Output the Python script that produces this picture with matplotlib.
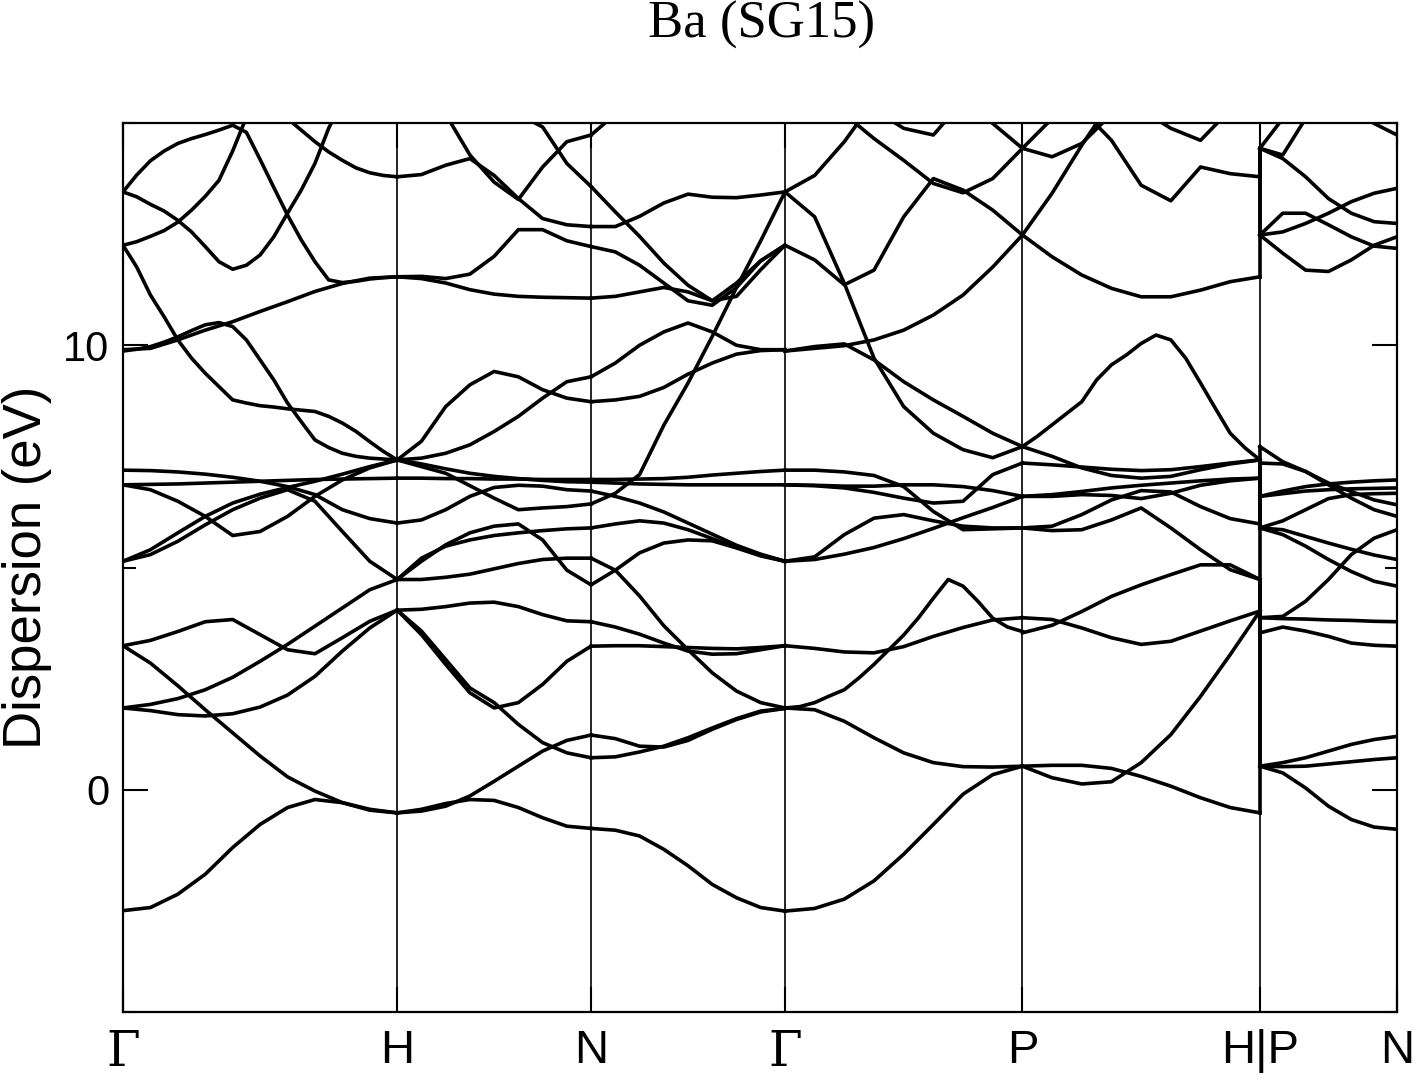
import matplotlib
matplotlib.use('Agg')
import matplotlib.pyplot as plt
import numpy as np

nan = np.nan

# k-path (units of 2pi/a), bcc: G-H-N-G-P-H|P-N
kpoints = [0.0, 1.0, 1.7071, 2.4142, 3.2802, 4.1463, 4.6463]
klabels = ['Γ', 'H', 'N', 'Γ', 'P', 'H|P', 'N']

# energies (eV) read along each segment, evenly spaced samples
gh_bands = [
    [-2.72, -2.65, -2.35, -1.90, -1.30, -0.78, -0.40, -0.22, -0.29, -0.44, -0.52],
    [3.24, 2.85, 2.34, 1.80, 1.28, 0.76, 0.29, -0.03, -0.29, -0.46, -0.52],
    [3.24, 3.36, 3.56, 3.78, 3.83, 3.49, 3.15, 3.06, 3.42, 3.79, 4.04],
    [1.84, 1.78, 1.69, 1.66, 1.71, 1.86, 2.13, 2.55, 3.12, 3.64, 4.04],
    [1.84, 1.92, 2.05, 2.25, 2.53, 2.89, 3.27, 3.68, 4.09, 4.50, 4.73],
    [7.19, 7.18, 7.15, 7.10, 7.03, 6.94, 6.82, 6.64, 6.30, 6.10, 6.00],
    [6.86, 6.87, 6.88, 6.90, 6.92, 6.94, 6.96, 6.98, 6.99, 7.00, 7.01],
    [6.86, 6.75, 6.49, 6.15, 5.72, 5.81, 6.15, 6.60, 6.97, 7.24, 7.42],
    [5.14, 5.40, 5.78, 6.15, 6.45, 6.65, 6.80, 6.94, 7.10, 7.27, 7.42],
    [5.14, 5.29, 5.59, 5.96, 6.30, 6.56, 6.75, 6.49, 5.81, 5.14, 4.73],
    [9.90, 9.93, 10.12, 10.34, 10.53, 10.76, 10.98, 11.21, 11.39, 11.51, 11.54],
    [9.87, 9.91, 9.97, 10.07, 10.19, 10.33, 10.46, 10.51, 10.42, 10.12, 9.67,
     9.22, 8.70, 8.28, 7.87, 7.70, 7.57, 7.50, 7.46, 7.44, 7.42],
    [12.25, 11.76, 11.13, 10.64, 10.12, 9.71, 9.37, 9.07, 8.77, 8.70, 8.64,
     8.61, 8.57, 8.54, 8.51, 8.40, 8.25, 8.06, 7.83, 7.61, 7.42],
    [12.25, 12.33, 12.45, 12.58, 12.77, 13.04, 13.35, 13.71, 14.37, 15.13,
     nan, nan, nan, nan, nan, nan, nan, nan, nan, nan, nan],
    [13.45, 13.83, 14.15, 14.37, 14.54, 14.65, 14.74, 14.84, 14.95, 14.79,
     14.18, 13.55, 12.93, 12.37, 11.88, 11.47, 11.41, 11.44, 11.49, 11.52, 11.54],
    [nan, nan, nan, nan, nan, nan, nan, nan, nan, nan, nan, 15.5, 15.1,
     14.84, 14.58, 14.35, 14.16, 13.99, 13.88, 13.82, 13.79],
    [13.45, 13.34, 13.17, 13.02, 12.81, 12.55, 12.22, 11.88, 11.71, 11.80,
     12.03, 12.44, 12.97, 13.49, 14.09, 14.88, 15.5, nan, nan, nan, nan],
]

hn_bands = [
    [-0.52, -0.44, -0.31, -0.22, -0.24, -0.40, -0.63, -0.82, -0.87],
    [-0.52, -0.48, -0.37, -0.14, 0.19, 0.53, 0.87, 1.11, 1.23],
    [4.04, 3.57, 2.93, 2.29, 1.96, 1.47, 1.06, 0.83, 0.72],
    [4.04, 3.49, 2.82, 2.18, 1.84, 1.96, 2.37, 2.89, 3.23],
    [4.04, 4.06, 4.12, 4.20, 4.22, 4.12, 3.94, 3.80, 3.78],
    [4.73, 4.73, 4.78, 4.85, 4.97, 5.09, 5.18, 5.21, 5.21],
    [4.73, 5.14, 5.51, 5.78, 5.93, 5.98, 5.62, 4.94, 4.61],
    [4.73, 5.21, 5.48, 5.62, 5.72, 5.78, 5.83, 5.87, 5.89],
    [7.42, 7.33, 7.22, 7.12, 7.05, 7.00, 6.96, 6.93, 6.92],
    [7.01, 7.01, 7.00, 7.00, 6.99, 6.99, 6.98, 6.98, 6.98],
    [7.42, 7.27, 7.12, 6.84, 6.56, 6.30, 6.34, 6.37, 6.43],
    [6.00, 6.07, 6.30, 6.60, 6.80, 6.85, 6.83, 6.75, 6.72],
    [7.42, 7.84, 8.62, 9.11, 9.41, 9.29, 9.00, 8.81, 8.73],
    [7.42, 7.46, 7.57, 7.76, 8.06, 8.40, 8.81, 9.18, 9.29],
    [11.54, 11.50, 11.40, 11.25, 11.15, 11.10, 11.08, 11.07, 11.06],
    [11.54, 11.55, 11.50, 11.60, 12.00, 12.60, 12.60, 12.35, 12.22],
    [13.79, 13.84, 14.05, 14.20, 13.82, 13.30, 12.85, 12.71, 12.67],
    [nan, nan, 15.2, 14.28, 13.67, 13.28, 14.01, 14.58, 14.73],
    [nan, nan, nan, nan, nan, 15.2, 14.91, 14.09, 13.57],
]

ng_bands = [
    [-0.87, -0.91, -1.04, -1.34, -1.71, -2.13, -2.43, -2.65, -2.73],
    [0.72, 0.74, 0.85, 0.98, 1.17, 1.39, 1.60, 1.77, 1.83],
    [1.23, 1.15, 0.98, 0.96, 1.11, 1.36, 1.58, 1.75, 1.83],
    [3.78, 3.66, 3.50, 3.30, 3.12, 3.05, 3.06, 3.15, 3.24],
    [3.23, 3.24, 3.24, 3.22, 3.20, 3.18, 3.17, 3.20, 3.24],
    [5.21, 4.94, 4.36, 3.69, 3.15, 2.63, 2.22, 1.96, 1.84],
    [4.61, 4.94, 5.33, 5.55, 5.62, 5.60, 5.44, 5.26, 5.14],
    [5.89, 5.98, 6.05, 6.00, 5.85, 5.65, 5.45, 5.28, 5.14],
    [6.72, 6.60, 6.45, 6.25, 6.00, 5.75, 5.50, 5.30, 5.14],
    [6.98, 6.98, 6.99, 7.00, 7.03, 7.08, 7.12, 7.16, 7.19],
    [6.92, 6.90, 6.88, 6.87, 6.86, 6.86, 6.86, 6.86, 6.86],
    [6.43, 6.67, 7.09, 8.20, 9.15, 10.20, 11.30, 12.35, 13.45],
    [8.73, 8.77, 8.85, 9.05, 9.35, 9.60, 9.80, 9.88, 9.90],
    [9.29, 9.60, 10.00, 10.30, 10.50, 10.30, 10.00, 9.90, 9.90],
    [11.06, 11.10, 11.20, 11.30, 11.20, 11.00, 11.40, 11.90, 12.25],
    [12.22, 12.10, 11.80, 11.40, 11.00, 10.90, 11.30, 11.90, 12.25],
    [12.67, 12.67, 12.90, 13.20, 13.40, 13.33, 13.32, 13.38, 13.45],
    [13.57, 13.00, 12.45, 11.85, 11.35, 11.00, 11.10, 11.70, 12.25],
    [14.73, 15.20, nan, nan, nan, nan, nan, nan, nan],
]

gp_bands = [
    [-2.73, -2.67, -2.46, -2.05, -1.45, -0.78, -0.10, 0.34, 0.53],
    [1.84, 1.80, 1.54, 1.17, 0.83, 0.61, 0.52, 0.51, 0.53],
    [1.84, 1.87, 1.96, 2.11, 2.25, 2.52, 2.82, 3.15, 3.48, 3.87, 4.31, 4.73,
     4.58, 4.24, 3.86, 3.66, 3.56],
    [3.24, 3.18, 3.10, 3.08, 3.22, 3.45, 3.65, 3.82, 3.87],
    [5.14, 5.18, 5.30, 5.45, 5.65, 5.88, 6.12, 6.35, 6.60],
    [5.14, 5.24, 5.74, 6.11, 6.19, 6.05, 5.93, 5.89, 5.89],
    [6.86, 6.84, 6.79, 6.69, 6.56, 6.45, 6.49, 7.09, 7.35],
    [7.19, 7.19, 7.15, 7.07, 6.82, 6.26, 5.85, 5.87, 5.89],
    [6.86, 6.85, 6.83, 6.83, 6.86, 6.86, 6.82, 6.73, 6.60],
    [13.45, 12.89, 11.39, 9.71, 8.62, 8.02, 7.65, 7.47, 7.72],
    [13.45, 13.82, 14.58, 15.5, nan, nan, nan, nan, nan],
    [12.25, 11.92, 11.36, 11.69, 12.89, 13.75, 13.49, 13.04, 12.48],
    [9.87, 9.93, 9.99, 10.12, 10.34, 10.68, 11.13, 11.76, 12.48],
    [9.87, 9.97, 10.03, 9.67, 9.18, 8.77, 8.40, 8.02, 7.72],
    [nan, nan, nan, 15.3, 14.88, 14.73, 15.5, nan, nan],
    [nan, nan, 15.2, 14.65, 14.16, 13.64, 13.43, 13.75, 14.43],
    [nan, nan, nan, nan, nan, nan, 15.6, 14.99, 14.43],
]

ph_bands = [
    [0.53, 0.55, 0.55, 0.48, 0.30, 0.08, -0.18, -0.40, -0.52],
    [0.53, 0.27, 0.13, 0.18, 0.61, 1.24, 2.10, 3.04, 4.02],
    [3.53, 3.70, 4.01, 4.35, 4.61, 4.84, 5.06, 5.06, 4.73],
    [3.87, 3.83, 3.64, 3.42, 3.27, 3.34, 3.57, 3.80, 4.02],
    [5.89, 5.83, 5.85, 6.07, 6.34, 5.89, 5.40, 4.95, 4.73],
    [5.89, 5.93, 6.19, 6.52, 6.73, 6.70, 6.37, 6.10, 5.98],
    [6.60, 6.64, 6.71, 6.79, 6.85, 6.90, 6.95, 6.99, 7.01],
    [6.60, 6.60, 6.64, 6.62, 6.55, 6.67, 6.85, 6.95, 7.01],
    [7.35, 7.31, 7.26, 7.21, 7.18, 7.20, 7.27, 7.35, 7.42],
    [7.72, 7.50, 7.24, 7.07, 7.01, 7.05, 7.20, 7.33, 7.42],
    [7.72, 7.95, 8.21, 8.47, 8.73, 9.22, 9.56, 9.78, 10.04, 10.23, 10.12,
     9.71, 9.15, 8.58, 8.02, 7.69, 7.42],
    [12.48, 11.99, 11.58, 11.28, 11.09, 11.09, 11.24, 11.43, 11.54],
    [12.48, 13.42, 14.50, 15.5, nan, nan, nan, nan, nan],
    [14.43, 14.24, 14.54, 15.2, nan, nan, nan, nan, nan],
    [14.43, 15.1, nan, nan, nan, nan, nan, nan, nan],
    [nan, nan, 15.3, 14.61, 13.60, 13.25, 14.01, 13.86, 13.79],
    [nan, nan, nan, nan, 15.3, 14.88, 14.61, 15.3, nan],
]

pn_bands = [
    [0.53, 0.61, 0.72, 0.87, 1.02, 1.13, 1.20],
    [0.53, 0.52, 0.53, 0.58, 0.63, 0.68, 0.72],
    [0.53, 0.38, 0.04, -0.37, -0.67, -0.84, -0.89],
    [3.87, 3.85, 3.84, 3.82, 3.81, 3.79, 3.78],
    [3.53, 3.66, 3.57, 3.45, 3.30, 3.25, 3.23],
    [3.87, 3.90, 4.24, 4.73, 5.29, 5.66, 5.85],
    [5.89, 5.74, 5.48, 5.18, 4.91, 4.69, 4.58],
    [5.89, 5.85, 5.70, 5.55, 5.41, 5.28, 5.18],
    [7.72, 7.38, 7.16, 6.90, 6.71, 6.52, 6.41],
    [7.35, 7.33, 7.16, 6.86, 6.56, 6.30, 6.15],
    [6.60, 6.72, 6.82, 6.88, 6.92, 6.95, 6.97],
    [6.60, 6.66, 6.72, 6.75, 6.77, 6.78, 6.79],
    [5.89, 6.05, 6.30, 6.55, 6.64, 6.66, 6.67],
    [12.48, 12.97, 12.97, 12.71, 12.44, 12.23, 12.18],
    [12.48, 12.55, 12.74, 12.97, 13.23, 13.42, 13.53],
    [12.48, 12.07, 11.69, 11.66, 11.92, 12.25, 12.44],
    [14.43, 14.20, 13.79, 13.30, 12.97, 12.78, 12.74],
    [14.43, 14.28, 15.1, nan, nan, nan, nan],
    [14.43, 15.1, nan, nan, nan, nan, nan],
    [nan, nan, nan, nan, 15.3, 14.99, 14.73],
]

segments = [
    (kpoints[0], kpoints[1], gh_bands),
    (kpoints[1], kpoints[2], hn_bands),
    (kpoints[2], kpoints[3], ng_bands),
    (kpoints[3], kpoints[4], gp_bands),
    (kpoints[4], kpoints[5], ph_bands),
    (kpoints[5], kpoints[6], pn_bands),
]

plt.rcParams['font.family'] = ['Liberation Sans', 'DejaVu Sans']

fig = plt.figure(figsize=(14.16, 10.8), dpi=100)
ax = fig.add_axes([123 / 1416, 1 - 1012 / 1080, 1274 / 1416, 889 / 1080])

# vertical lines at the special points
for k in kpoints[1:-1]:
    ax.axvline(k, color='k', lw=1.2, zorder=1)

for k0, k1, bands in segments:
    for b in bands:
        xs = np.linspace(k0, k1, len(b))
        ax.plot(xs, b, color='k', lw=2.6, solid_joinstyle='round', zorder=2)

# jumps at the H|P break (bands joined in energy order, below / above the gap)
for lo, hi in [(-10, 10), (10, 15)]:
    ends = sorted(b[-1] for b in ph_bands if lo <= b[-1] < hi)
    starts = sorted(b[0] for b in pn_bands if lo <= b[0] < hi)
    n = max(len(ends), len(starts))
    ends += [ends[-1]] * (n - len(ends))
    starts += [starts[-1]] * (n - len(starts))
    for e0, e1 in zip(ends, starts):
        ax.plot([kpoints[5], kpoints[5]], [e0, e1], color='k', lw=2.6, zorder=2)

ax.set_xlim(kpoints[0], kpoints[-1])
ax.set_ylim(-5, 15)

ax.set_xticks(kpoints)
ax.set_xticklabels(klabels)
ax.set_yticks([0, 10])
ax.set_yticks([-5, 5, 15], minor=True)
ax.tick_params(axis='both', which='both', direction='in', top=True, right=True,
               width=1.5)
ax.tick_params(axis='x', which='major', length=18, labelsize=34, pad=12)
ax.tick_params(axis='y', which='major', length=18, labelsize=30, pad=10)
ax.tick_params(axis='y', which='minor', length=9)
for lbl in ax.get_xticklabels():
    if lbl.get_text() == 'Γ':
        lbl.set_fontfamily('DejaVu Serif')
        lbl.set_fontsize(35)
for s in ax.spines.values():
    s.set_linewidth(1.6)

ax.set_ylabel('Dispersion (eV)', fontsize=38, labelpad=8)
fig.text(762 / 1416, 1 - 25 / 1080, 'Ba (SG15)', ha='center', va='center',
         fontsize=38, family='Liberation Serif')

fig.savefig('out.png', dpi=100)
